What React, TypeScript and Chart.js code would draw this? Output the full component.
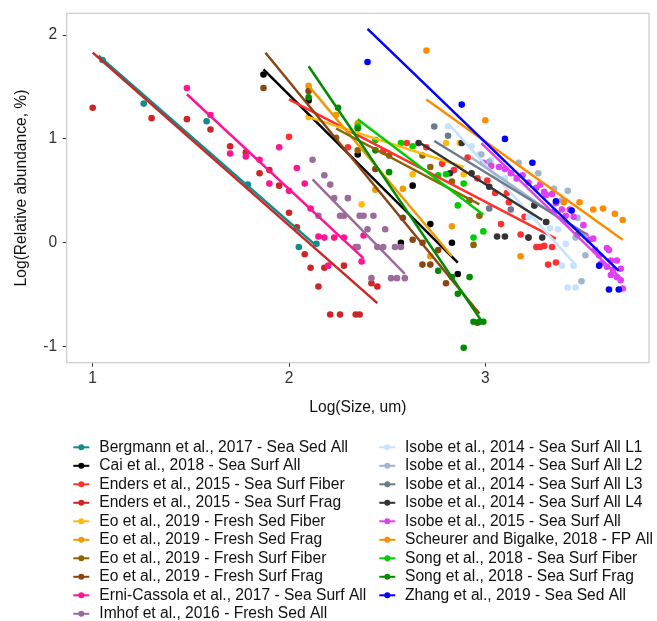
import React, { useEffect, useRef } from "react";
import { Chart, registerables } from "chart.js";

Chart.register(...registerables);

const FONT = '"Liberation Sans", Arial, sans-serif';

const seriesLabels = [
  "Bergmann et al., 2017 - Sea Sed All",
  "Cai et al., 2018 - Sea Surf All",
  "Enders et al., 2015 - Sea Surf Fiber",
  "Enders et al., 2015 - Sea Surf Frag",
  "Eo et al., 2019 - Fresh Sed Fiber",
  "Eo et al., 2019 - Fresh Sed Frag",
  "Eo et al., 2019 - Fresh Surf Fiber",
  "Eo et al., 2019 - Fresh Surf Frag",
  "Erni-Cassola et al., 2017 - Sea Surf All",
  "Imhof et al., 2016 - Fresh Sed All",
  "Isobe et al., 2014 - Sea Surf All L1",
  "Isobe et al., 2014 - Sea Surf All L2",
  "Isobe et al., 2014 - Sea Surf All L3",
  "Isobe et al., 2014 - Sea Surf All L4",
  "Isobe et al., 2015 - Sea Surf All",
  "Scheurer and Bigalke, 2018 - FP All",
  "Song et al., 2018 - Sea Surf Fiber",
  "Song et al., 2018 - Sea Surf Frag",
  "Zhang et al., 2019 - Sea Sed All",
];

const seriesColors = [
  "#128b8b", "#000000", "#ff3030", "#cd2626", "#ffb90f", "#ee9a00",
  "#8b6508", "#8b4513", "#ff1493", "#9c6b99", "#c6e2ff", "#9fb6cd",
  "#6c7b8b", "#333333", "#e040f0", "#ff8c00", "#00cd00", "#008b00", "#0000ff",
];

// [log size, log relative abundance]
const bergmannPts = [[1.05,1.76],[1.26,1.34],[1.58,1.17],[1.79,0.56],[2.05,-0.04],[2.14,-0.01]];
const bergmannFit = [[1.03,1.8],[2.14,-0.03]];

const caiPts = [[1.87,1.62],[2.1,1.37],[2.35,0.85],[2.63,0.55],[2.72,0.18],[2.57,0.0],[2.83,0.0],[2.86,-0.3]];
const caiFit = [[1.87,1.67],[2.86,-0.19]];

const endersFiberPts = [[2.0,1.02],[2.3,0.92],[2.48,0.88],[2.6,0.96],[2.7,0.92],[2.78,0.76],[2.84,0.7],[2.91,0.82],[2.96,0.62],[3.01,0.6],[3.05,0.48],[3.11,0.48],[3.12,0.39],[3.08,0.18],[3.2,0.25],[3.18,0.08],[3.22,0.05],[3.26,-0.04],[3.28,-0.04],[3.3,-0.03],[3.34,-0.04],[3.32,-0.21],[3.36,-0.19]];
const endersFiberFit = [[2.0,1.38],[3.36,0.04]];

const endersFragPts = [[1.0,1.3],[1.3,1.2],[1.48,1.19],[1.6,1.09],[1.7,0.93],[1.78,0.87],[1.85,0.67],[1.9,0.7],[1.95,0.55],[2.0,0.29],[2.04,0.15],[2.08,-0.11],[2.11,-0.24],[2.15,-0.42],[2.18,-0.24],[2.21,-0.69],[2.26,-0.69],[2.28,-0.22],[2.34,-0.69],[2.36,-0.69],[2.42,-0.39],[2.45,-0.42]];
const endersFragFit = [[1.0,1.83],[2.45,-0.58]];

const eoSedFiberPts = [[2.1,1.21],[2.37,0.37],[2.63,0.66],[2.8,0.96],[2.87,0.96],[2.89,0.66]];
const eoSedFiberFit = [[2.1,1.21],[2.89,0.73]];

const eoSedFragPts = [[2.1,1.51],[2.24,1.23],[2.35,1.15],[2.44,0.51],[2.58,0.52],[2.72,-0.13],[2.83,0.16]];
const eoSedFragFit = [[2.1,1.51],[2.83,-0.13]];

const eoSurfFiberPts = [[2.24,1.01],[2.35,0.89],[2.51,0.84],[2.68,0.84],[2.72,0.73],[2.83,0.59],[2.92,0.41],[2.97,0.26],[2.94,-0.02]];
const eoSurfFiberFit = [[2.24,1.1],[2.97,0.37]];

const eoSurfFragPts = [[1.87,1.49],[2.1,1.46],[2.44,0.71],[2.58,0.24],[2.63,0.03],[2.68,0.0],[2.76,-0.07],[2.68,-0.21],[2.72,-0.21],[2.8,-0.39],[2.96,-0.77]];
const eoSurfFragFit = [[1.88,1.83],[2.97,-0.68]];

const erniPts = [[1.48,1.49],[1.6,1.23],[1.7,0.86],[1.78,0.83],[1.85,0.8],[1.9,0.57],[1.95,0.92],[2.0,0.5],[2.04,0.72],[2.08,0.57],[2.11,0.33],[2.15,0.06],[2.18,0.05],[2.2,-0.22],[2.23,0.05],[2.28,0.05],[2.37,-0.18],[2.38,0.07]];
const erniFit = [[1.48,1.43],[2.38,-0.15]];

const imhofPts = [[2.12,0.8],[2.18,0.65],[2.21,0.56],[2.15,0.26],[2.23,0.43],[2.3,0.43],[2.26,0.26],[2.28,0.26],[2.36,0.26],[2.38,0.26],[2.43,0.26],[2.4,0.13],[2.49,0.13],[2.34,-0.04],[2.35,-0.04],[2.45,-0.04],[2.48,-0.04],[2.54,-0.04],[2.57,-0.04],[2.42,-0.34],[2.52,-0.34],[2.55,-0.34],[2.59,-0.34]];
const imhofFit = [[2.12,0.61],[2.59,-0.3]];

const isobeL1Pts = [[2.81,1.12],[2.93,0.93],[2.97,0.85],[3.03,0.8],[3.1,0.62],[3.22,0.25],[3.33,0.14],[3.37,0.13],[3.41,-0.01],[3.39,-0.22],[3.45,-0.22],[3.42,-0.43],[3.46,-0.43]];
const isobeL1Fit = [[2.81,1.15],[3.45,-0.19]];

const isobeL2Pts = [[2.98,0.85],[3.02,0.78],[3.17,0.77],[3.27,0.67],[3.35,0.52],[3.42,0.5],[3.39,0.41],[3.47,0.24],[3.46,0.05],[3.51,-0.12],[3.49,-0.37]];
const isobeL2Fit = [[2.93,0.82],[3.52,0.05]];

const isobeL3Pts = [[2.74,1.12],[2.81,1.03],[3.02,0.33],[3.13,0.32],[3.25,0.36],[3.31,0.2],[3.35,0.3],[3.47,0.08]];
const isobeL3Fit = [[2.74,0.98],[3.51,0.09]];

const isobeL4Pts = [[2.66,0.96],[2.88,0.96],[2.82,0.67],[2.93,0.67],[3.02,0.54],[3.06,0.06],[3.1,0.06],[3.22,0.05],[3.29,0.05],[3.25,0.36],[3.31,0.2]];
const isobeL4Fit = [[2.66,0.97],[3.29,0.22]];

const isobe2015Pts = [[2.99,0.77],[3.03,0.74],[3.07,0.73],[3.1,0.71],[3.13,0.67],[3.19,0.65],[3.16,0.62],[3.22,0.58],[3.26,0.53],[3.28,0.56],[3.3,0.49],[3.34,0.47],[3.31,0.46],[3.36,0.38],[3.39,0.32],[3.41,0.26],[3.43,0.32],[3.45,0.25],[3.5,0.17],[3.51,0.07],[3.55,0.04],[3.53,0.03],[3.56,-0.07],[3.62,-0.05],[3.63,-0.07],[3.58,-0.12],[3.64,-0.17],[3.67,-0.17],[3.59,-0.2],[3.62,-0.23],[3.65,-0.26],[3.69,-0.25],[3.64,-0.31],[3.67,-0.33],[3.69,-0.36],[3.7,-0.44]];
const isobe2015Fit = [[2.98,0.96],[3.7,-0.36]];

const scheurerPts = [[2.7,1.85],[3.0,1.18],[3.18,-0.13],[3.4,0.39],[3.48,0.39],[3.55,0.32],[3.6,0.33],[3.66,0.28],[3.7,0.22]];
const scheurerFit = [[2.7,1.38],[3.7,0.03]];

const songFiberPts = [[2.35,1.12],[2.44,0.99],[2.57,0.96],[2.63,0.93],[2.76,0.65],[2.8,0.66],[2.86,0.36],[2.89,0.57],[2.94,0.05],[2.99,0.11]];
const songFiberFit = [[2.35,1.19],[2.99,0.27]];

const songFragPts = [[2.1,1.4],[2.25,1.3],[2.35,1.1],[2.44,0.89],[2.51,0.68],[2.76,-0.27],[2.83,-0.33],[2.86,-0.49],[2.92,-0.33],[2.94,-0.76],[2.97,-0.76],[2.99,-0.76],[2.89,-1.01]];
const songFragFit = [[2.1,1.7],[2.98,-0.75]];

const zhangPts = [[2.4,1.74],[2.88,1.33],[3.1,1.0],[3.24,0.77],[3.36,0.4],[3.44,0.31],[3.58,-0.22],[3.63,-0.45],[3.68,-0.45]];
const zhangFit = [[2.4,2.06],[3.68,-0.27]];

const seriesPoints = [bergmannPts, caiPts, endersFiberPts, endersFragPts, eoSedFiberPts, eoSedFragPts, eoSurfFiberPts, eoSurfFragPts, erniPts, imhofPts, isobeL1Pts, isobeL2Pts, isobeL3Pts, isobeL4Pts, isobe2015Pts, scheurerPts, songFiberPts, songFragPts, zhangPts];
const seriesFits = [bergmannFit, caiFit, endersFiberFit, endersFragFit, eoSedFiberFit, eoSedFragFit, eoSurfFiberFit, eoSurfFragFit, erniFit, imhofFit, isobeL1Fit, isobeL2Fit, isobeL3Fit, isobeL4Fit, isobe2015Fit, scheurerFit, songFiberFit, songFragFit, zhangFit];

const xTicks = [1, 2, 3];
const yTicks = [-1, 0, 1, 2];
const xTitle = "Log(Size, um)";
const yTitle = "Log(Relative abundance, %)";

export default function App() {
  const ref = useRef<HTMLCanvasElement | null>(null);

  useEffect(() => {
    if (!ref.current) return;
    const n = seriesLabels.length;
    const datasets: any[] = [];
    for (let i = 0; i < n; i++) {
      const c = seriesColors[i];
      datasets.push({
        label: seriesLabels[i],
        data: seriesPoints[i].map(([x, y]) => ({ x, y })),
        backgroundColor: c,
        borderColor: c,
        pointRadius: 3.3,
        pointBorderWidth: 0,
        showLine: false,
        order: 100 + (n - 1 - i),
      });
      datasets.push({
        label: seriesLabels[i] + " fit",
        data: seriesFits[i].map(([x, y]) => ({ x, y })),
        borderColor: c,
        backgroundColor: c,
        borderWidth: 2.5,
        pointRadius: 0,
        showLine: true,
        order: n - 1 - i,
      });
    }

    const legendPlugin = {
      id: "customLegend",
      afterDraw(chart: any) {
        const ctx = chart.ctx;
        ctx.save();
        ctx.font = `15.6px ${FONT}`;
        ctx.textBaseline = "middle";
        ctx.textAlign = "left";
        for (let i = 0; i < n; i++) {
          const col = i < 10 ? 0 : 1;
          const row = i < 10 ? i : i - 10;
          const y = 447.3 + 18.5 * row;
          const x0 = col === 0 ? 73.3 : 379.3;
          const c = seriesColors[i];
          ctx.strokeStyle = c;
          ctx.lineWidth = 2;
          ctx.beginPath();
          ctx.moveTo(x0, y);
          ctx.lineTo(x0 + 16, y);
          ctx.stroke();
          ctx.fillStyle = c;
          ctx.beginPath();
          ctx.arc(x0 + 8, y, 3, 0, Math.PI * 2);
          ctx.fill();
          ctx.fillStyle = "#111";
          ctx.fillText(seriesLabels[i], col === 0 ? 99.3 : 405, y);
        }
        ctx.restore();
      },
      afterDatasetsDraw(chart: any) {
        const { ctx, chartArea } = chart;
        ctx.save();
        ctx.strokeStyle = "#cccccc";
        ctx.lineWidth = 1.2;
        ctx.strokeRect(chartArea.left, chartArea.top, chartArea.right - chartArea.left, chartArea.bottom - chartArea.top);
        ctx.restore();
      },
    };

    const tickFont = { size: 15.6, family: FONT };
    const chart = new Chart(ref.current, {
      type: "scatter",
      data: { datasets },
      plugins: [legendPlugin],
      options: {
        responsive: false,
        devicePixelRatio: 1,
        animation: false,
        layout: { padding: { left: 0, top: 13.3, right: 8, bottom: 201.6 } },
        plugins: { legend: { display: false }, tooltip: { enabled: false } },
        scales: {
          x: {
            type: "linear",
            min: 0.8675,
            max: 3.834,
            afterBuildTicks: (s: any) => { s.ticks = xTicks.map((v) => ({ value: v })); },
            afterFit: (s: any) => { s.height = 56.7; s.paddingLeft = 0; s.paddingRight = 0; },
            ticks: { font: tickFont, color: "#333", padding: 3, callback: (v: any) => String(v) },
            grid: { drawOnChartArea: false, drawTicks: true, tickLength: 4, tickColor: "#333", tickWidth: 1 },
            border: { display: false },
            title: { display: true, text: xTitle, font: tickFont, color: "#111", padding: 2 },
          },
          y: {
            type: "linear",
            min: -1.154,
            max: 2.209,
            afterBuildTicks: (s: any) => { s.ticks = yTicks.map((v) => ({ value: v })); },
            afterFit: (s: any) => { s.width = 66.7; s.paddingTop = 0; s.paddingBottom = 0; },
            ticks: { font: tickFont, color: "#333", padding: 5.5, callback: (v: any) => String(v) },
            grid: { drawOnChartArea: false, drawTicks: true, tickLength: 4, tickColor: "#333", tickWidth: 1 },
            border: { display: false },
            title: { display: true, text: yTitle, font: tickFont, color: "#111", padding: 12.3 },
          },
        },
      },
    } as any);
    return () => chart.destroy();
  }, []);

  return (
    <div style={{ position: "fixed", left: 0, top: 0, width: 657, height: 621, background: "#fff" }}>
      <canvas ref={ref} width={657} height={621} style={{ display: "block", width: 657, height: 621 }} />
    </div>
  );
}
